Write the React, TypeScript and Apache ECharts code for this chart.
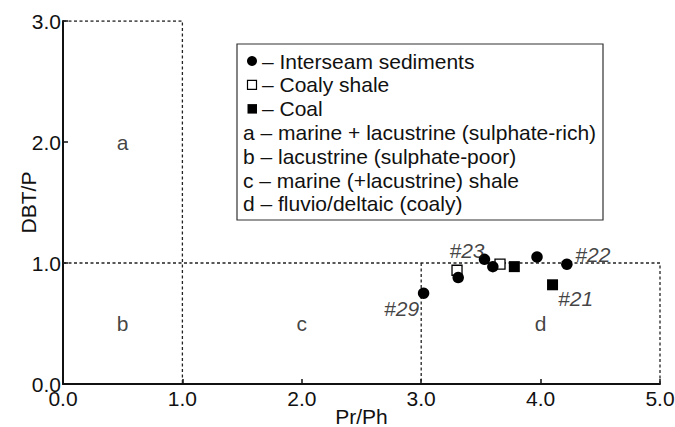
import React, { useEffect, useRef } from "react";
import * as echarts from "echarts";

// ---- data ----
const interseam: [number, number][] = [
  [3.02, 0.75],
  [3.31, 0.88],
  [3.53, 1.03],
  [3.6, 0.97],
  [3.97, 1.05],
  [4.22, 0.99],
];
const coalyShale: [number, number][] = [
  [3.3, 0.94],
  [3.66, 0.99],
];
const coal: [number, number][] = [
  [3.78, 0.97],
  [4.1, 0.82],
];
// sample annotations: name, x, y (point they belong to)
const sampleNames = ["#29", "#23", "#22", "#21"];
const samplePoints: [number, number][] = [
  [3.02, 0.75],
  [3.3, 0.94],
  [4.22, 0.99],
  [4.1, 0.82],
];
const sampleOffsets: [number, number][] = [
  [-22, 15],
  [10, -20],
  [26, -10],
  [23, 14],
];
// field boundaries (dashed)
const boundaries: [number, number][][] = [
  [[0, 3], [1, 3], [1, 0]],
  [[0, 1], [5, 1], [5, 0]],
  [[3, 1], [3, 0]],
];
const regionNames = ["a", "b", "c", "d"];
const regionPos: [number, number][] = [
  [0.5, 2.0],
  [0.5, 0.5],
  [2.0, 0.5],
  [4.0, 0.5],
];
const legendSymbolRows = ["– Interseam sediments", "– Coaly shale", "– Coal"];
const legendTextRows = [
  "a – marine + lacustrine (sulphate-rich)",
  "b – lacustrine (sulphate-poor)",
  "c – marine (+lacustrine) shale",
  "d – fluvio/deltaic (coaly)",
];
const xTicks = { min: 0, max: 5, interval: 1 };
const yTicks = { min: 0, max: 3, interval: 1 };

const FONT = "'Liberation Sans', Arial, sans-serif";
const TXT = "#111";
const FS = 21;

export default function App() {
  const ref = useRef<HTMLDivElement>(null);
  useEffect(() => {
    if (!ref.current) return;
    const chart = echarts.init(ref.current, undefined, { renderer: "svg" });

    const rowY0 = 61;
    const rowH = 23.8;
    const graphic: any[] = [
      {
        type: "rect",
        shape: { x: 237, y: 44, width: 366, height: 176 },
        style: { fill: "#fff", stroke: "#333", lineWidth: 1.2 },
        z: 100,
      },
      {
        type: "circle",
        shape: { cx: 252, cy: rowY0, r: 5 },
        style: { fill: "#000" },
        z: 101,
      },
      {
        type: "rect",
        shape: { x: 247.5, y: rowY0 + rowH - 4.5, width: 9, height: 9 },
        style: { fill: "#fff", stroke: "#000", lineWidth: 1.2 },
        z: 101,
      },
      {
        type: "rect",
        shape: { x: 247.5, y: rowY0 + 2 * rowH - 4.5, width: 9.5, height: 9.5 },
        style: { fill: "#000" },
        z: 101,
      },
    ];
    legendSymbolRows.forEach((t, i) => {
      graphic.push({
        type: "text",
        x: 262,
        y: rowY0 + i * rowH,
        z: 101,
        style: {
          text: t,
          fill: TXT,
          font: `${FS}px ${FONT}`,
          verticalAlign: "middle",
          align: "left",
        },
      });
    });
    legendTextRows.forEach((t, i) => {
      graphic.push({
        type: "text",
        x: 243,
        y: rowY0 + (i + 3) * rowH,
        z: 101,
        style: {
          text: t,
          fill: TXT,
          font: `${FS}px ${FONT}`,
          verticalAlign: "middle",
          align: "left",
        },
      });
    });

    const boundarySeries = boundaries.map((b) => ({
      type: "line",
      data: b,
      symbol: "none",
      silent: true,
      lineStyle: { color: "#222", width: 1.3, type: [3, 2.5] },
      z: 1,
    }));

    chart.setOption({
      animation: false,
      backgroundColor: "#fff",
      grid: { left: 63, right: 15, top: 21, bottom: 43, outerBoundsMode: "none", containLabel: false },
      xAxis: {
        type: "value",
        ...xTicks,
        name: "Pr/Ph",
        nameLocation: "middle",
        nameGap: 22,
        nameMoveOverlap: false,
        nameTextStyle: { fontFamily: FONT, fontSize: FS, color: TXT, verticalAlign: "top" },
        axisLine: { lineStyle: { color: "#111", width: 2 } },
        axisTick: { inside: true, length: 5, lineStyle: { color: "#111", width: 1.5 } },
        axisLabel: {
          fontFamily: FONT,
          fontSize: FS,
          color: TXT,
          margin: 4,
          formatter: (v: number) => v.toFixed(1),
        },
        splitLine: { show: false },
      },
      yAxis: {
        type: "value",
        ...yTicks,
        name: "DBT/P",
        nameLocation: "middle",
        nameGap: 35,
        nameMoveOverlap: false,
        nameTextStyle: { fontFamily: FONT, fontSize: FS, color: TXT, verticalAlign: "middle" },
        axisLine: { show: true, lineStyle: { color: "#111", width: 2 } },
        axisTick: { show: true, inside: true, length: 5, lineStyle: { color: "#111", width: 1.5 } },
        axisLabel: {
          fontFamily: FONT,
          fontSize: FS,
          color: TXT,
          margin: 2,
          formatter: (v: number) => v.toFixed(1),
        },
        splitLine: { show: false },
      },
      graphic,
      series: [
        ...boundarySeries,
        {
          type: "scatter",
          data: regionPos.map((p, i) => ({ value: p, name: regionNames[i] })),
          symbolSize: 0,
          silent: true,
          label: {
            show: true,
            position: "inside",
            formatter: (p: any) => p.name,
            fontFamily: FONT,
            fontSize: FS,
            color: TXT,
          },
        },
        {
          type: "scatter",
          name: "Interseam sediments",
          data: interseam,
          symbol: "circle",
          symbolSize: 11.5,
          itemStyle: { color: "#000", opacity: 1 },
          z: 5,
        },
        {
          type: "scatter",
          name: "Coaly shale",
          data: coalyShale,
          symbol: "rect",
          symbolSize: 10,
          itemStyle: { color: "#fff", borderColor: "#000", borderWidth: 1.3, opacity: 1 },
          z: 4,
        },
        {
          type: "scatter",
          name: "Coal",
          data: coal,
          symbol: "rect",
          symbolSize: 11,
          itemStyle: { color: "#000", opacity: 1 },
          z: 5,
        },
        {
          type: "scatter",
          data: samplePoints.map((p, i) => ({
            value: p,
            name: sampleNames[i],
            label: { offset: sampleOffsets[i] },
          })),
          symbolSize: 0,
          silent: true,
          z: 6,
          label: {
            show: true,
            position: "inside",
            formatter: (p: any) => p.name,
            fontFamily: FONT,
            fontSize: FS,
            fontStyle: "italic",
            color: TXT,
          },
        },
      ],
    });
    return () => chart.dispose();
  }, []);
  return (
    <div
      ref={ref}
      style={{ position: "fixed", left: 0, top: 0, width: 675, height: 427 }}
    />
  );
}
